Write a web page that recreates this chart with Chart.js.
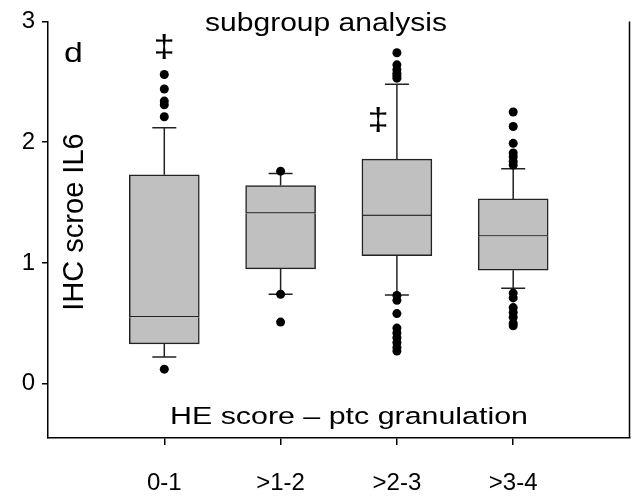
<!DOCTYPE html>
<html>
<head>
<meta charset="utf-8">
<script src="https://cdn.jsdelivr.net/npm/chart.js@4"></script>
<style>
  body { margin: 0; background: #fff; }
</style>
</head>
<body>
<canvas id="boxChart" width="634" height="497"></canvas>
<script>
const categories = ["0-1", ">1-2", ">2-3", ">3-4"];
const xPos = [1, 2, 3, 4];
const whiskLo = [0.22, 0.74, 0.735, 0.79];
const q1 = [0.33, 0.95, 1.06, 0.94];
const median = [0.55, 1.41, 1.39, 1.22];
const q3 = [1.73, 1.64, 1.86, 1.53];
const whiskHi = [2.12, 1.74, 2.48, 1.78];
const outliers = [
  [0.12, 2.21, 2.31, 2.34, 2.44, 2.56],
  [0.51, 0.74, 1.76],
  [0.27, 0.30, 0.34, 0.38, 0.42, 0.46, 0.58, 0.69, 0.73, 2.53, 2.55, 2.57, 2.60, 2.64, 2.74],
  [0.48, 0.50, 0.55, 0.59, 0.63, 0.71, 0.75, 1.81, 1.84, 1.88, 1.91, 1.99, 2.13, 2.25],
];
const yTicks = [0, 1, 2, 3];
// significance marks: [x value, y value of glyph centre]
const daggers = [[1, 2.77], [2.84, 2.17]];

const font = "'Liberation Sans', Arial, Helvetica, sans-serif";

const outlierPoints = [];
outliers.forEach((list, i) => {
  list.forEach((v) => outlierPoints.push({ x: xPos[i], y: v }));
});

const boxStyle = {
  type: "bar",
  backgroundColor: "#c0c0c0",
  borderColor: "#222",
  borderSkipped: false,
  barThickness: 70,
  grouped: false,
  order: 1,
};

// stretched text helper
const drawText = (ctx, text, x, yb, size, sx, align) => {
  ctx.save();
  ctx.font = size + "px " + font;
  ctx.fillStyle = "#000";
  ctx.textAlign = align || "center";
  ctx.textBaseline = "alphabetic";
  ctx.translate(x, yb);
  ctx.scale(sx, 1);
  ctx.fillText(text, 0, 0);
  ctx.restore();
};

const boxExtras = {
  id: "boxExtras",
  beforeDatasetsDraw(chart) {
    const { ctx, scales: { x, y } } = chart;
    ctx.save();
    ctx.strokeStyle = "#222";
    ctx.lineWidth = 1.5;
    const capHalf = 12;
    categories.forEach((c, i) => {
      const px = x.getPixelForValue(xPos[i]);
      const segs = [
        [q3[i], whiskHi[i]],
        [q1[i], whiskLo[i]],
      ];
      segs.forEach(([from, to]) => {
        const y0 = y.getPixelForValue(from);
        const y1 = y.getPixelForValue(to);
        ctx.beginPath();
        ctx.moveTo(px, y0);
        ctx.lineTo(px, y1);
        ctx.moveTo(px - capHalf, y1);
        ctx.lineTo(px + capHalf, y1);
        ctx.stroke();
      });
    });
    ctx.restore();
  },
  afterDraw(chart) {
    const { ctx, chartArea, scales: { x, y } } = chart;
    // right frame line
    ctx.save();
    ctx.strokeStyle = "#000";
    ctx.lineWidth = 1.5;
    ctx.beginPath();
    ctx.moveTo(chartArea.right, chartArea.top);
    ctx.lineTo(chartArea.right, chartArea.bottom);
    ctx.stroke();
    ctx.restore();

    drawText(ctx, "subgroup analysis", 326, 31, 25, 1.2);
    drawText(ctx, "d", 64, 62, 27, 1.25, "left");
    drawText(ctx, "HE score \u2013 ptc granulation", 349, 424, 24.5, 1.24);

    // y axis title, inside the plot
    ctx.save();
    ctx.font = "29px " + font;
    ctx.fillStyle = "#000";
    ctx.textAlign = "center";
    ctx.textBaseline = "alphabetic";
    ctx.translate(83, 222);
    ctx.rotate(-Math.PI / 2);
    ctx.fillText("IHC scroe IL6", 0, 0);
    ctx.restore();

    daggers.forEach(([dx, dy]) => {
      const fs = 32;
      const px = x.getPixelForValue(dx);
      const py = y.getPixelForValue(dy) + 0.26 * fs;
      drawText(ctx, "\u2021", px, py, fs, 1.2);
    });
  },
};

const config = {
  type: "bar",
  data: {
    datasets: [
      {
        type: "scatter",
        data: outlierPoints,
        pointRadius: 4.5,
        pointHoverRadius: 4.5,
        backgroundColor: "#000",
        borderWidth: 0,
        order: 0,
      },
      {
        ...boxStyle,
        borderWidth: { top: 0, bottom: 1.5, left: 1.5, right: 1.5 },
        data: xPos.map((v, i) => ({ x: v, y: [q1[i], median[i]] })),
      },
      {
        ...boxStyle,
        borderWidth: 1.5,
        data: xPos.map((v, i) => ({ x: v, y: [median[i], q3[i]] })),
      },
    ],
  },
  options: {
    responsive: false,
    animation: false,
    layout: { padding: { top: 20, right: 3, left: 0, bottom: 0 } },
    plugins: {
      legend: { display: false },
      tooltip: { enabled: false },
    },
    scales: {
      x: {
        type: "linear",
        min: 0,
        max: 5,
        offset: false,
        afterBuildTicks: (scale) => {
          scale.ticks = xPos.map((v) => ({ value: v }));
        },
        afterFit: (scale) => {
          scale.height = 59;
        },
        ticks: {
          callback: (v) => categories[xPos.indexOf(v)],
          color: "#000",
          padding: 24,
          maxRotation: 0,
          font: { family: font, size: 24 },
        },
        grid: {
          offset: false,
          drawOnChartArea: false,
          drawTicks: true,
          tickLength: 7,
          color: "#000",
          lineWidth: 1.5,
        },
        border: { display: true, color: "#000", width: 1.5 },
      },
      y: {
        type: "linear",
        min: -0.45,
        max: 3,
        afterBuildTicks: (scale) => {
          scale.ticks = yTicks.map((v) => ({ value: v }));
        },
        afterFit: (scale) => {
          scale.width = 48;
        },
        ticks: {
          color: "#000",
          padding: 7,
          font: { family: font, size: 24 },
        },
        grid: {
          drawOnChartArea: false,
          drawTicks: true,
          tickLength: 6,
          color: "#000",
          lineWidth: 1.5,
        },
        border: { display: true, color: "#000", width: 1.5 },
      },
    },
  },
  plugins: [boxExtras],
};

const boxChart = new Chart(document.getElementById("boxChart"), config);
</script>
</body>
</html>
